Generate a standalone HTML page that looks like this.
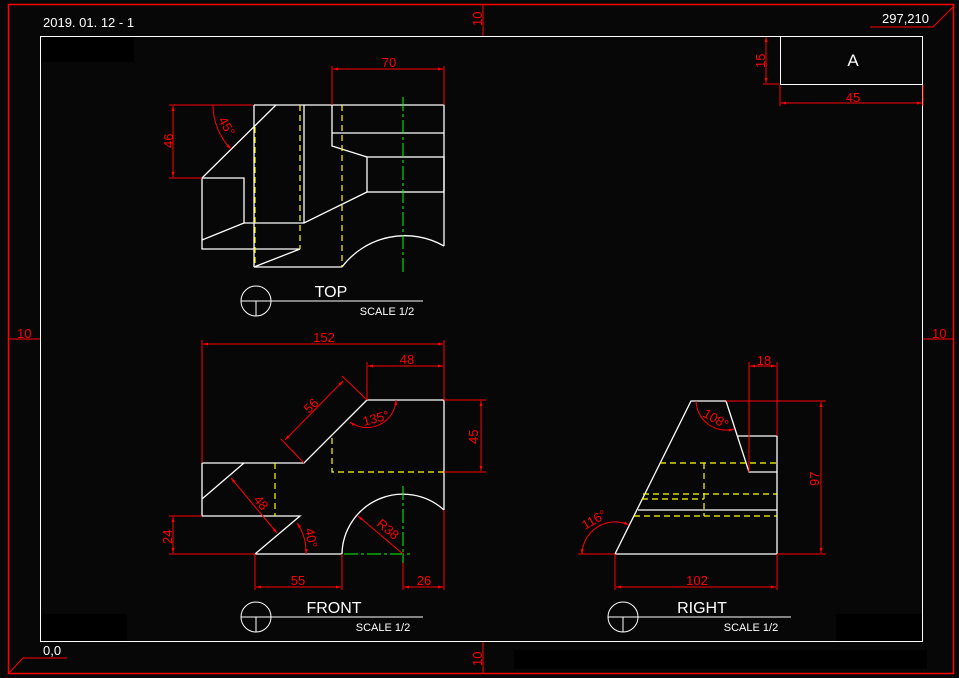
<!DOCTYPE html>
<html><head><meta charset="utf-8"><style>
html,body{margin:0;padding:0;background:#070707;}
svg{display:block;}
text{font-family:"Liberation Sans",sans-serif;}
</style></head><body>
<svg width="959" height="678" viewBox="0 0 959 678" xmlns="http://www.w3.org/2000/svg">
<defs>
<marker id="a" viewBox="0 0 10 10" refX="10" refY="5" markerWidth="7" markerHeight="5" orient="auto-start-reverse"><path d="M0,2 L10,5 L0,8 z" fill="#f00"/></marker>
</defs>
<rect width="959" height="678" fill="#070707"/>
<rect x="40" y="36" width="94" height="26" fill="#000"/>
<rect x="40" y="614" width="87" height="28" fill="#000"/>
<rect x="836" y="614" width="87" height="28" fill="#000"/>
<rect x="514" y="650" width="413" height="19" fill="#000"/>
<rect x="8.5" y="4.5" width="945" height="669" fill="none" stroke="#f00" stroke-width="1.5"/>
<rect x="40.5" y="36.5" width="882" height="605" fill="none" stroke="#fff" stroke-width="1"/>
<g stroke="#f00" stroke-width="1" fill="none">
<line x1="483" y1="4" x2="483" y2="36"/><line x1="483" y1="642" x2="483" y2="674"/>
<line x1="8" y1="339" x2="40" y2="339"/><line x1="923" y1="339" x2="954" y2="339"/>
<polyline points="870,27 933,27 954,6"/><polyline points="67,658 23,658 8,674"/>
</g>
<g fill="#f00" font-size="13">
<text transform="translate(482,26) rotate(-90)">10</text>
<text transform="translate(482,666) rotate(-90)">10</text>
<text x="17" y="338">10</text><text x="932" y="338">10</text>
</g>
<g fill="#fff" font-size="13">
<text x="43" y="27">2019. 01. 12 - 1</text>
<text x="882" y="23">297,210</text>
<text x="43" y="655">0,0</text>
</g>
<rect x="780.5" y="36.5" width="142" height="48" fill="none" stroke="#fff"/>
<text x="853" y="66" fill="#fff" font-size="17" text-anchor="middle">A</text>
<g stroke="#f00" fill="none">
<line x1="763" y1="84" x2="780" y2="84"/>
<line x1="766" y1="37" x2="766" y2="83" marker-start="url(#a)" marker-end="url(#a)"/>
<line x1="780" y1="85" x2="780" y2="106"/><line x1="923" y1="85" x2="923" y2="106"/>
<line x1="781" y1="103" x2="922" y2="103" marker-start="url(#a)" marker-end="url(#a)"/>
</g>
<text x="853" y="102" fill="#f00" font-size="13" text-anchor="middle">45</text>
<text transform="translate(765,68) rotate(-90)" fill="#f00" font-size="13">15</text>

<g stroke="#fff" stroke-width="1.3" fill="none">
<polyline points="254,105 444,105 444,246"/>
<line x1="254" y1="105" x2="254" y2="267"/>
<line x1="254" y1="267" x2="342" y2="267"/>
<polyline points="202,178 244,178 244,223 304,223 367,192"/>
<line x1="202" y1="178" x2="276" y2="105"/>
<polyline points="202,178 202,249 300,249 254,267"/>
<line x1="202" y1="240" x2="244" y2="223"/>
<line x1="304" y1="105" x2="304" y2="223"/>
<polyline points="332,105 332,146 367,157"/>
<line x1="332" y1="133" x2="444" y2="133"/>
<rect x="367" y="157" width="77" height="35"/>
<path d="M342,267 A79,79 0 0 1 444,246"/>
</g>
<g stroke="#ff0" stroke-width="1.2" stroke-dasharray="6,4" fill="none">
<line x1="255" y1="127" x2="255" y2="267"/>
<line x1="300" y1="105" x2="300" y2="249"/>
<line x1="342" y1="105" x2="342" y2="267"/>
</g>
<line x1="403" y1="97" x2="403" y2="275" stroke="#0f0" stroke-dasharray="14,3,3,3"/>
<g stroke="#f00" fill="none">
<line x1="332" y1="66" x2="332" y2="105"/><line x1="444" y1="66" x2="444" y2="105"/>
<line x1="333" y1="69" x2="443" y2="69" marker-start="url(#a)" marker-end="url(#a)"/>
<line x1="169" y1="105" x2="253" y2="105"/><line x1="169" y1="178" x2="202" y2="178"/>
<line x1="173" y1="106" x2="173" y2="177" marker-start="url(#a)" marker-end="url(#a)"/>
<path d="M213,105 A63,63 0 0 0 231,149" marker-end="url(#a)"/>
</g>
<g fill="#f00" font-size="13">
<text x="389" y="67" text-anchor="middle">70</text>
<text transform="translate(173,148) rotate(-90)">46</text>
<text transform="translate(218,120) rotate(60)">45°</text>
</g>
<g stroke="#fff" fill="none"><circle cx="256" cy="301" r="15"/><line x1="241" y1="301" x2="423" y2="301"/><line x1="256" y1="301" x2="256" y2="316"/></g>
<text x="331" y="297" fill="#fff" font-size="16" text-anchor="middle">TOP</text>
<text x="387" y="315" fill="#fff" font-size="11" text-anchor="middle">SCALE 1/2</text>

<g stroke="#fff" stroke-width="1.3" fill="none">
<polyline points="367,400 444,400 444,510"/>
<polyline points="367,400 304,463 202,463 202,516 300,516 255,554 342,554"/>
<line x1="202" y1="499" x2="244" y2="463"/>
<path d="M342,554 A61,61 0 0 1 444,510"/>
</g>
<g stroke="#ff0" stroke-width="1.2" stroke-dasharray="6,4" fill="none">
<line x1="275" y1="463" x2="275" y2="516"/>
<polyline points="332,438 332,472 444,472"/>
</g>
<g stroke="#0f0" stroke-dasharray="14,3,3,3" fill="none">
<line x1="344" y1="554" x2="410" y2="554"/><line x1="403" y1="486" x2="403" y2="563"/>
</g>
<g stroke="#f00" fill="none">
<line x1="202" y1="340" x2="202" y2="463"/><line x1="444" y1="340" x2="444" y2="400"/>
<line x1="203" y1="344" x2="443" y2="344" marker-start="url(#a)" marker-end="url(#a)"/>
<line x1="367" y1="362" x2="367" y2="400"/>
<line x1="368" y1="366" x2="443" y2="366" marker-start="url(#a)" marker-end="url(#a)"/>
<line x1="444" y1="400" x2="486" y2="400"/><line x1="444" y1="472" x2="486" y2="472"/>
<line x1="481" y1="401" x2="481" y2="471" marker-start="url(#a)" marker-end="url(#a)"/>
<line x1="367" y1="400" x2="342" y2="376"/><line x1="304" y1="463" x2="281" y2="439"/>
<line x1="343" y1="381" x2="285" y2="440" marker-start="url(#a)" marker-end="url(#a)"/>
<path d="M350,422 A29,29 0 0 0 396,400" marker-start="url(#a)" marker-end="url(#a)"/>
<line x1="231" y1="478" x2="277" y2="533" marker-start="url(#a)" marker-end="url(#a)"/>
<line x1="169" y1="516" x2="202" y2="516"/><line x1="169" y1="554" x2="255" y2="554"/>
<line x1="173" y1="517" x2="173" y2="553" marker-start="url(#a)" marker-end="url(#a)"/>
<path d="M306,554 A51,51 0 0 0 297,523" marker-start="url(#a)" marker-end="url(#a)"/>
<line x1="403" y1="554" x2="358" y2="516" marker-end="url(#a)"/>
<line x1="255" y1="554" x2="255" y2="590"/><line x1="342" y1="554" x2="342" y2="590"/>
<line x1="256" y1="587" x2="341" y2="587" marker-start="url(#a)" marker-end="url(#a)"/>
<line x1="403" y1="563" x2="403" y2="590"/><line x1="444" y1="510" x2="444" y2="590"/>
<line x1="404" y1="587" x2="443" y2="587" marker-start="url(#a)" marker-end="url(#a)"/>
</g>
<g fill="#f00" font-size="13">
<text x="324" y="342" text-anchor="middle">152</text>
<text x="407" y="364" text-anchor="middle">48</text>
<text transform="translate(478,444) rotate(-90)">45</text>
<text transform="translate(309,414) rotate(-45)">56</text>
<text transform="translate(364,426) rotate(-15)">135°</text>
<text transform="translate(253,500) rotate(50)">48</text>
<text transform="translate(172,544) rotate(-90)">24</text>
<text transform="translate(305,529) rotate(80)">40°</text>
<text transform="translate(376,525) rotate(40)">R38</text>
<text x="298" y="585" text-anchor="middle">55</text>
<text x="424" y="585" text-anchor="middle">26</text>
</g>
<g stroke="#fff" fill="none"><circle cx="256" cy="617" r="15"/><line x1="241" y1="617" x2="423" y2="617"/><line x1="256" y1="617" x2="256" y2="632"/></g>
<text x="334" y="613" fill="#fff" font-size="16" text-anchor="middle">FRONT</text>
<text x="383" y="631" fill="#fff" font-size="11" text-anchor="middle">SCALE 1/2</text>

<g stroke="#fff" stroke-width="1.3" fill="none">
<polyline points="726,401 691,401 615,554 777,554 777,436 738,436"/>
<polyline points="726,401 749,472 777,472"/>
<line x1="638" y1="510" x2="777" y2="510"/>
</g>
<g stroke="#ff0" stroke-width="1.2" stroke-dasharray="6,4" fill="none">
<line x1="660" y1="463" x2="777" y2="463"/>
<line x1="643" y1="494" x2="777" y2="494"/>
<line x1="642" y1="499" x2="704" y2="499"/>
<line x1="634" y1="516" x2="777" y2="516"/>
<line x1="704" y1="463" x2="704" y2="516"/>
</g>
<g stroke="#f00" fill="none">
<line x1="749" y1="362" x2="749" y2="472"/><line x1="777" y1="362" x2="777" y2="436"/>
<line x1="750" y1="366" x2="776" y2="366" marker-start="url(#a)" marker-end="url(#a)"/>
<line x1="726" y1="401" x2="826" y2="401"/><line x1="777" y1="554" x2="826" y2="554"/>
<line x1="821" y1="402" x2="821" y2="553" marker-start="url(#a)" marker-end="url(#a)"/>
<line x1="615" y1="554" x2="615" y2="590"/><line x1="777" y1="554" x2="777" y2="590"/>
<line x1="616" y1="587" x2="776" y2="587" marker-start="url(#a)" marker-end="url(#a)"/>
<line x1="578" y1="554" x2="615" y2="554"/>
<path d="M582,554 A33,33 0 0 1 629,525" marker-start="url(#a)" marker-end="url(#a)"/>
<path d="M696,401 A30,30 0 0 0 734,429" marker-end="url(#a)"/>
</g>
<g fill="#f00" font-size="13">
<text x="764" y="365" text-anchor="middle">18</text>
<text transform="translate(819,486) rotate(-90)">97</text>
<text x="697" y="585" text-anchor="middle">102</text>
<text transform="translate(585,530) rotate(-30)">116°</text>
<text transform="translate(702,416) rotate(30)">108°</text>
</g>
<g stroke="#fff" fill="none"><circle cx="623" cy="617" r="15"/><line x1="608" y1="617" x2="791" y2="617"/><line x1="623" y1="617" x2="623" y2="632"/></g>
<text x="702" y="613" fill="#fff" font-size="16" text-anchor="middle">RIGHT</text>
<text x="751" y="631" fill="#fff" font-size="11" text-anchor="middle">SCALE 1/2</text>
</svg>
</body></html>
